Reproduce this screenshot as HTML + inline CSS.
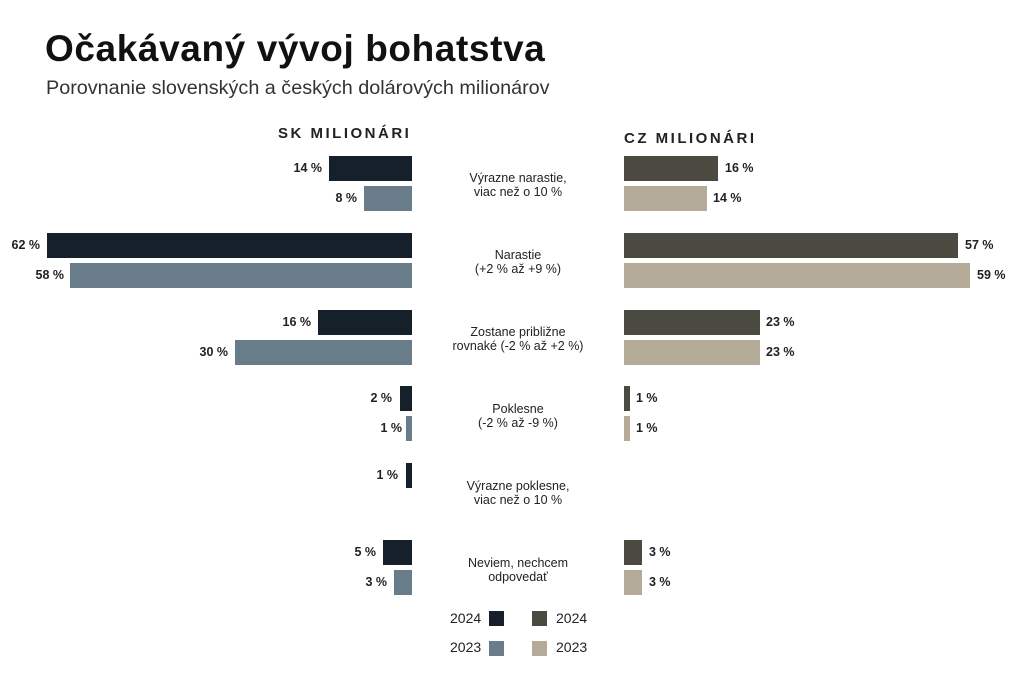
<!DOCTYPE html>
<html><head><meta charset="utf-8"><style>
body{margin:0;width:1024px;height:682px;background:#fff;font-family:"Liberation Sans",sans-serif;position:relative;overflow:hidden}
.a{position:absolute;white-space:nowrap}
.b{position:absolute;height:25px}
.k{background:#15202b}.s{background:#687d89}.c{background:#4a4a40}.t{background:#b3aa98}
.l{position:absolute;font-size:12.5px;font-weight:bold;color:#222;line-height:25px}
.m{position:absolute;left:418px;width:200px;text-align:center;font-size:12.5px;line-height:14px;color:#222}
.h{font-size:15px;font-weight:bold;letter-spacing:2.5px;color:#222}
.g{font-size:14px;color:#222}
</style></head><body>
<div class="a" style="left:45px;top:28px;font-size:37px;font-weight:bold;color:#111;letter-spacing:0.6px">Očakávaný vývoj bohatstva</div>
<div class="a" style="left:46px;top:77px;font-size:19.8px;color:#333">Porovnanie slovenských a českých dolárových milionárov</div>
<div class="a h" style="left:278px;top:125px">SK MILIONÁRI</div>
<div class="a h" style="left:624px;top:130px">CZ MILIONÁRI</div>

<div class="b k" style="left:329px;width:83px;top:156px"></div><div class="l" style="right:702px;top:156px">14 %</div>
<div class="b s" style="left:364px;width:48px;top:186px"></div><div class="l" style="right:667px;top:186px">8 %</div>
<div class="b c" style="left:624px;width:94px;top:156px"></div><div class="l" style="left:725px;top:156px">16 %</div>
<div class="b t" style="left:624px;width:83px;top:186px"></div><div class="l" style="left:713px;top:186px">14 %</div>
<div class="m" style="top:171px">Výrazne narastie,<br>viac než o 10 %</div>

<div class="b k" style="left:47px;width:365px;top:233px"></div><div class="l" style="right:984px;top:233px">62 %</div>
<div class="b s" style="left:70px;width:342px;top:263px"></div><div class="l" style="right:960px;top:263px">58 %</div>
<div class="b c" style="left:624px;width:334px;top:233px"></div><div class="l" style="left:965px;top:233px">57 %</div>
<div class="b t" style="left:624px;width:346px;top:263px"></div><div class="l" style="left:977px;top:263px">59 %</div>
<div class="m" style="top:248px">Narastie<br>(+2 % až +9 %)</div>

<div class="b k" style="left:318px;width:94px;top:310px"></div><div class="l" style="right:713px;top:310px">16 %</div>
<div class="b s" style="left:235px;width:177px;top:340px"></div><div class="l" style="right:796px;top:340px">30 %</div>
<div class="b c" style="left:624px;width:136px;top:310px"></div><div class="l" style="left:766px;top:310px">23 %</div>
<div class="b t" style="left:624px;width:136px;top:340px"></div><div class="l" style="left:766px;top:340px">23 %</div>
<div class="m" style="top:325px">Zostane približne<br>rovnaké (-2 % až +2 %)</div>

<div class="b k" style="left:400px;width:12px;top:386px"></div><div class="l" style="right:632px;top:386px">2 %</div>
<div class="b s" style="left:406px;width:6px;top:416px"></div><div class="l" style="right:622px;top:416px">1 %</div>
<div class="b c" style="left:624px;width:6px;top:386px"></div><div class="l" style="left:636px;top:386px">1 %</div>
<div class="b t" style="left:624px;width:6px;top:416px"></div><div class="l" style="left:636px;top:416px">1 %</div>
<div class="m" style="top:402px">Poklesne<br>(-2 % až -9 %)</div>

<div class="b k" style="left:406px;width:6px;top:463px"></div><div class="l" style="right:626px;top:463px">1 %</div>
<div class="m" style="top:479px">Výrazne poklesne,<br>viac než o 10 %</div>

<div class="b k" style="left:383px;width:29px;top:540px"></div><div class="l" style="right:648px;top:540px">5 %</div>
<div class="b s" style="left:394px;width:18px;top:570px"></div><div class="l" style="right:637px;top:570px">3 %</div>
<div class="b c" style="left:624px;width:18px;top:540px"></div><div class="l" style="left:649px;top:540px">3 %</div>
<div class="b t" style="left:624px;width:18px;top:570px"></div><div class="l" style="left:649px;top:570px">3 %</div>
<div class="m" style="top:556px">Neviem, nechcem<br>odpovedať</div>

<div class="a g" style="left:450px;top:610px">2024</div>
<div class="b k" style="left:489px;top:611px;width:15px;height:15px"></div>
<div class="b c" style="left:532px;top:611px;width:15px;height:15px"></div>
<div class="a g" style="left:556px;top:610px">2024</div>
<div class="a g" style="left:450px;top:639px">2023</div>
<div class="b s" style="left:489px;top:641px;width:15px;height:15px"></div>
<div class="b t" style="left:532px;top:641px;width:15px;height:15px"></div>
<div class="a g" style="left:556px;top:639px">2023</div>
</body></html>
